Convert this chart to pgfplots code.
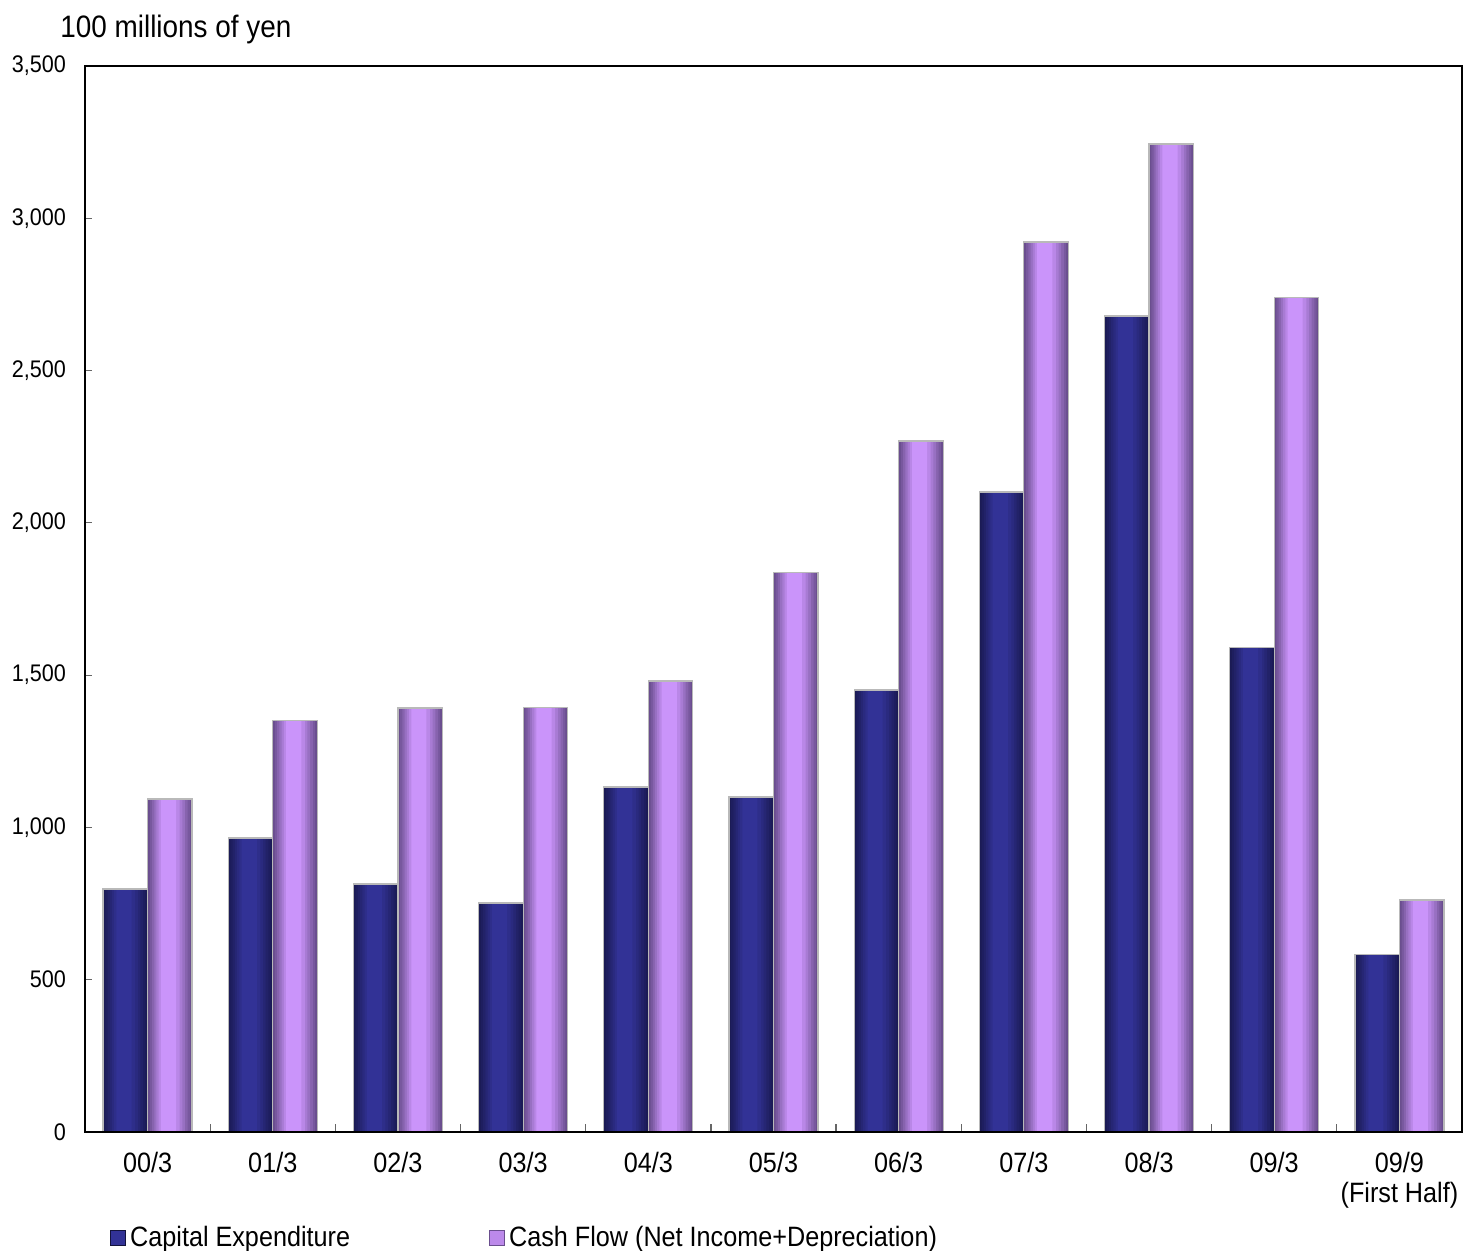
\documentclass[border=0pt]{standalone}
\usepackage{pgfplots}
\usepackage{pgfplotstable}
\pgfplotsset{compat=1.18}
\usepackage{fontspec}
\setmainfont{Liberation Sans}[FakeStretch=0.9]
\definecolor{capdark}{HTML}{1B1B55}
\definecolor{caplight}{HTML}{323296}
\definecolor{cfdark}{HTML}{6A4E8E}
\definecolor{cflight}{HTML}{CA94FA}
\pgfplotstableread{
x cap cf
0 798 1093
1 965 1352
2 814 1392
3 752 1395
4 1133 1481
5 1100 1838
6 1451 2269
7 2101 2922
8 2679 3244
9 1592 2741
10 584 762
}\data
\newcommand\layer[4]{% color, width, shift, column
  \addplot[forget plot, draw=none, fill=#1, bar width=#2pt, bar shift=#3pt] table[x=x,y=#4]{\data};}
\begin{document}
\begin{tikzpicture}
\begin{axis}[
  at={(0,0)}, anchor=south west, scale only axis,
  width=688.5pt, height=533pt,
  xmin=-0.5, xmax=10.5, ymin=0, ymax=3500,
  ybar=0pt, bar width=22.25pt,
  xtick={0,...,10},
  xticklabels={00/3,01/3,02/3,03/3,04/3,05/3,06/3,07/3,08/3,09/3,{09/9\\(First Half)}},
  minor xtick={0.5,1.5,...,9.5},
  major x tick style={draw=none},
  minor tick length=4pt,
  major tick length=3.5pt,
  tick align=inside,
  xtick pos=bottom, ytick pos=left,
  ytick={0,500,...,3500},
  tick style={gray!80!black, line width=0.6pt},
  axis line style={line width=0.6pt},
  axis on top,
  scaled y ticks=false,
  /pgf/number format/1000 sep={,},
  /pgf/number format/assume math mode=true,
  yticklabel style={font=\fontsize{12}{14}\selectfont, xshift=-6pt},
  xticklabel style={font=\fontsize{14}{15}\selectfont, align=center, yshift=-6.8pt},
  legend columns=2,
  legend style={draw=none, fill=none, at={(0.018,-0.0994)}, anchor=west, inner sep=0pt,
    font=\fontsize{14}{16}\selectfont,
    /tikz/every even column/.append style={column sep=67.5pt}},
]
\addplot[draw=none, fill=capdark, bar width=22.25pt, bar shift=-11.125pt,
  legend image code/.code={\draw[capdark!70!black, fill=caplight, line width=0.5pt] (0pt,-3.75pt) rectangle (7.5pt,3.75pt);}]
  table[x=x,y=cap]{\data};
\addlegendentry{Capital Expenditure}
\addplot[draw=none, fill=cfdark, bar width=22.25pt, bar shift=11.125pt,
  legend image code/.code={\draw[cfdark, fill=cflight!85!cfdark, line width=0.5pt] (0pt,-3.75pt) rectangle (7.5pt,3.75pt);}]
  table[x=x,y=cf]{\data};
\addlegendentry{Cash Flow (Net Income+Depreciation)}
% stepped shading, capital expenditure
\layer{caplight!15!capdark}{20.03}{-11.125}{cap}
\layer{caplight!30!capdark}{17.80}{-11.125}{cap}
\layer{caplight!48!capdark}{15.35}{-11.24}{cap}
\layer{caplight!65!capdark}{12.91}{-11.35}{cap}
\layer{caplight!82!capdark}{10.46}{-11.46}{cap}
\layer{caplight}{7.565}{-11.79}{cap}
% stepped shading, cash flow
\layer{cflight!15!cfdark}{20.03}{11.125}{cf}
\layer{cflight!30!cfdark}{17.80}{11.125}{cf}
\layer{cflight!48!cfdark}{15.35}{11.01}{cf}
\layer{cflight!65!cfdark}{12.91}{10.90}{cf}
\layer{cflight!82!cfdark}{10.46}{10.79}{cf}
\layer{cflight}{7.565}{10.46}{cf}
% outlines
\addplot[forget plot, draw=gray!55, line width=0.6pt, fill=none, bar width=22.25pt, bar shift=-11.125pt] table[x=x,y=cap]{\data};
\addplot[forget plot, draw=gray!55, line width=0.6pt, fill=none, bar width=22.25pt, bar shift=11.125pt] table[x=x,y=cf]{\data};
\end{axis}
\node[anchor=base west, font=\fontsize{15.5}{18}\selectfont, inner sep=0pt] at (-12.5pt,547pt) {100 millions of yen};
\pgfresetboundingbox
\useasboundingbox (-42.5pt,-59.5pt) rectangle (691.5pt,566pt);
\end{tikzpicture}
\end{document}
